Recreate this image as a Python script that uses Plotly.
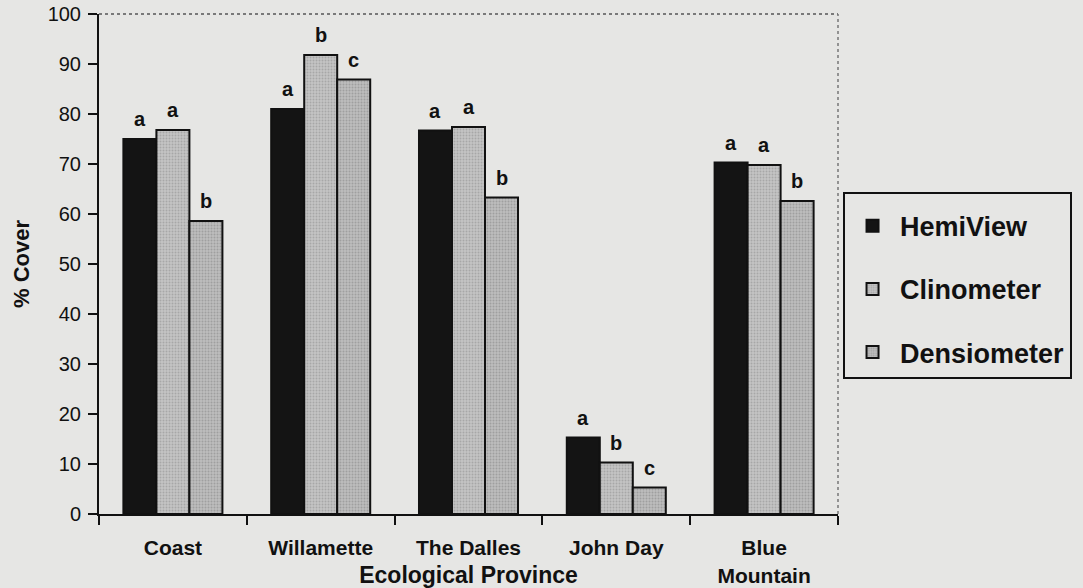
import plotly.graph_objects as go

categories = ["Coast", "Willamette", "The Dalles", "John Day", "Blue<br>Mountain"]
hemiview = [75.0, 81.0, 76.7, 15.3, 70.3]
clinometer = [76.8, 91.8, 77.4, 10.3, 69.8]
densiometer = [58.6, 86.9, 63.3, 5.3, 62.6]
letters_hemi = ["a", "a", "a", "a", "a"]
letters_clino = ["a", "b", "a", "b", "a"]
letters_dens = ["b", "c", "b", "c", "b"]

FONT = "Liberation Sans, Arial, sans-serif"
BG = "#e6e6e4"
BARGAP = 0.33

series = [
    ("HemiView", hemiview, letters_hemi, dict(color="#141414")),
    ("Clinometer", clinometer, letters_clino,
     dict(color="#b9b9b9", pattern=dict(shape=".", fgcolor="#8a8a8a", bgcolor="#c4c4c4", size=3, solidity=0.35))),
    ("Densiometer", densiometer, letters_dens,
     dict(color="#b0b0b0", pattern=dict(shape=".", fgcolor="#828282", bgcolor="#bcbcbc", size=3, solidity=0.35))),
]

fig = go.Figure()
annotations = []
n = len(series)
w = (1 - BARGAP) / n
for j, (name, vals, lets, mk) in enumerate(series):
    mk = dict(mk)
    mk["line"] = dict(color="#111111", width=2)
    fig.add_trace(go.Bar(name=name, x=categories, y=vals, marker=mk, legendgroup=name))
    for i, (v, l) in enumerate(zip(vals, lets)):
        annotations.append(dict(
            x=i + (j - (n - 1) / 2) * w, y=v, xref="x", yref="y", text="<b>%s</b>" % l,
            showarrow=False, yanchor="middle", yshift=20,
            font=dict(family=FONT, size=20, color="#111111")))

fig.update_layout(
    width=1083, height=588,
    margin=dict(l=99, r=245, t=14, b=74, autoexpand=False),
    paper_bgcolor=BG, plot_bgcolor=BG,
    barmode="group", bargap=BARGAP, bargroupgap=0,
    font=dict(family=FONT, color="#111111"),
    annotations=annotations,
    legend=dict(
        x=1.0068, xanchor="left", y=0.644, yanchor="top",
        bgcolor=BG, bordercolor="#111111", borderwidth=2,
        font=dict(family=FONT, size=27, weight="bold", color="#111111"),
        title=dict(text=" ", font=dict(family=FONT, size=6)),
        tracegroupgap=25, itemwidth=45, traceorder="grouped",
    ),
    xaxis=dict(
        type="category", showline=True, linecolor="#111111", linewidth=2, automargin=False,
        ticks="outside", tickson="boundaries", ticklen=9, tickwidth=2, tickcolor="#111111",
        tickfont=dict(family=FONT, size=21, weight="bold", color="#111111"),
        ticklabelstandoff=14, showgrid=False, zeroline=False,
        title=dict(text="<b>Ecological Province</b>", font=dict(family=FONT, size=23, color="#111111"), standoff=3),
    ),
    yaxis=dict(
        range=[0, 100], tickvals=list(range(0, 101, 10)), automargin=False,
        showline=True, linecolor="#111111", linewidth=2,
        ticks="outside", ticklen=9, tickwidth=2, tickcolor="#111111",
        tickfont=dict(family=FONT, size=20, color="#111111"),
        ticklabelstandoff=3, showgrid=False, zeroline=False,
        title=dict(text="<b>% Cover</b>", font=dict(family=FONT, size=22, color="#111111"), standoff=12),
    ),
    shapes=[
        dict(type="line", xref="paper", yref="paper", x0=0, x1=1, y0=1, y1=1,
             line=dict(color="#555555", width=1.5, dash="dot")),
        dict(type="line", xref="paper", yref="paper", x0=1, x1=1, y0=0, y1=1,
             line=dict(color="#777777", width=1.5, dash="dot")),
    ],
)

fig.write_html(
    "out.html",
    config={"displayModeBar": False},
    post_script="document.body.style.margin='0';document.body.style.background='%s';" % BG,
)
